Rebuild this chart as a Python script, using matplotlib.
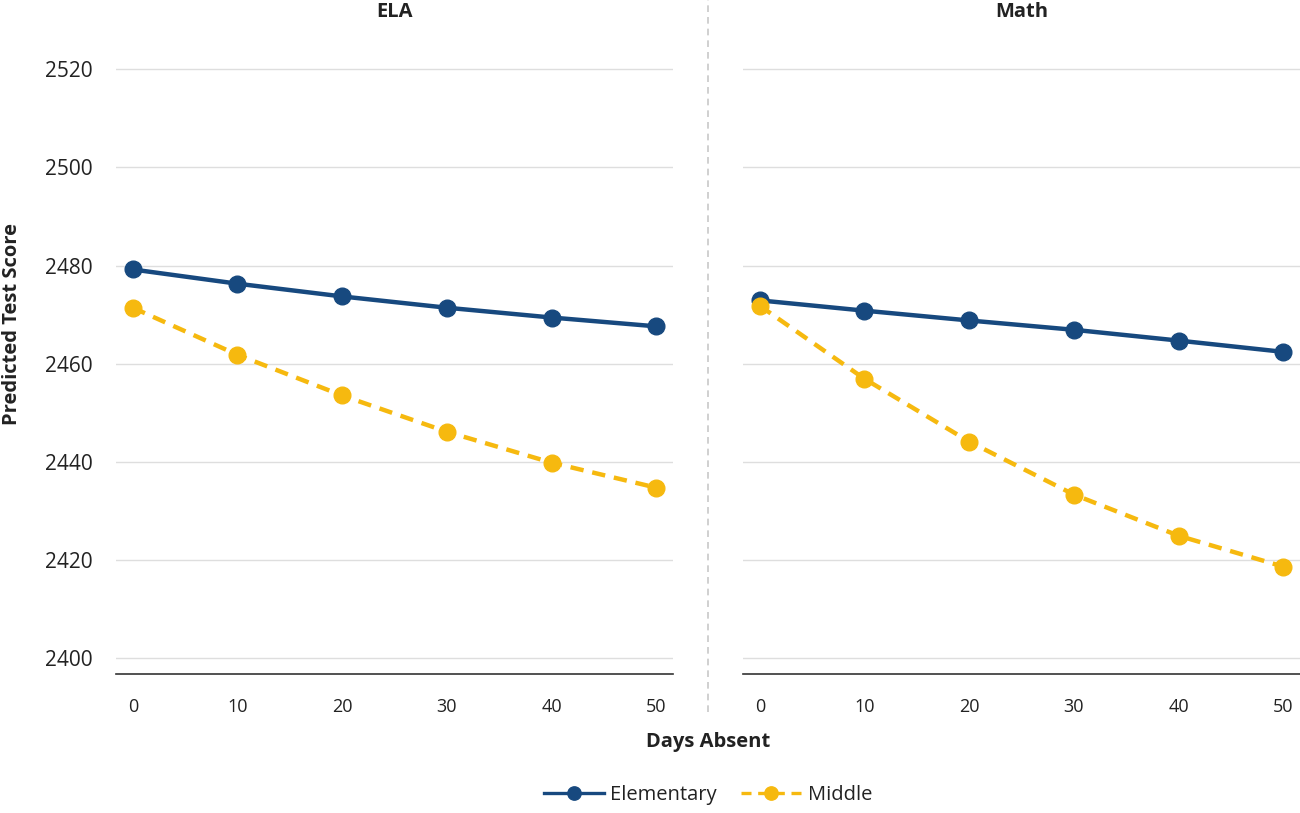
import matplotlib
matplotlib.use("Agg")
import matplotlib.pyplot as plt
from matplotlib.lines import Line2D

plt.rcParams['font.family'] = ['Open Sans', 'DejaVu Sans']

days = [0, 10, 20, 30, 40, 50]
ela_elementary = [2479.2, 2476.3, 2473.7, 2471.4, 2469.4, 2467.6]
ela_middle = [2471.4, 2461.8, 2453.5, 2446.1, 2439.8, 2434.7]
math_elementary = [2472.9, 2470.8, 2468.8, 2466.9, 2464.7, 2462.4]
math_middle = [2471.8, 2456.9, 2444.1, 2433.3, 2424.9, 2418.6]
panels = ["ELA", "Math"]
yticks = [2400, 2420, 2440, 2460, 2480, 2500, 2520]

navy = "#17497f"
gold = "#f6b90f"
text_c = "#222222"

fig = plt.figure(figsize=(13, 8.13), dpi=100)
W, H = 1300, 813
ax_l = fig.add_axes([116/W, 1-674/H, 557/W, (674-40)/H])
ax_r = fig.add_axes([743/W, 1-674/H, 557/W, (674-40)/H])

data = [(ela_elementary, ela_middle), (math_elementary, math_middle)]
for i, (ax, (el, mid)) in enumerate(zip([ax_l, ax_r], data)):
    ax.plot(days, el, color=navy, lw=3.2, marker='o', ms=12, label="Elementary", zorder=3)
    ax.plot(days, mid, color=gold, lw=3.2, ls=(0, (3, 2)), marker='o', ms=12, label="Middle", zorder=3)
    ax.set_xlim(-1.6, 51.6)
    ax.set_ylim(2396.7, 2526)
    ax.set_yticks(yticks)
    ax.set_xticks(days)
    ax.grid(axis='y', color='#dedede', lw=1)
    ax.set_axisbelow(True)
    for s in ['top', 'right', 'left']:
        ax.spines[s].set_visible(False)
    ax.spines['bottom'].set_color('#333333')
    ax.spines['bottom'].set_linewidth(1.2)
    ax.tick_params(axis='both', length=0, colors=text_c)
    ax.tick_params(axis='x', pad=17, labelsize=13)
    ax.tick_params(axis='y', pad=17, labelsize=15)
    if i == 1:
        ax.tick_params(axis='y', labelleft=False)

fig.text(394.5/W, 1-12/H, panels[0], ha='center', va='center', fontsize=14.5,
         fontweight='bold', color=text_c)
fig.text(1021.5/W, 1-12/H, panels[1], ha='center', va='center', fontsize=14.5,
         fontweight='bold', color=text_c)

fig.text(12/W, 1-324/H, "Predicted Test Score", rotation=90, ha='center', va='center',
         fontsize=14.5, fontweight='bold', color=text_c)
fig.text(708/W, 1-742/H, "Days Absent", ha='center', va='center', fontsize=14.5,
         fontweight='bold', color=text_c)

fig.add_artist(Line2D([708/W, 708/W], [1-712/H, 1.0], color='#c8c8c8', lw=1.2,
                      ls=(0, (4, 3)), transform=fig.transFigure))

handles, labels = ax_l.get_legend_handles_labels()
leg = fig.legend(handles, labels, loc='center', bbox_to_anchor=(708/W, 1-795/H), ncol=2,
                 frameon=False, fontsize=14.5, handlelength=3.0, columnspacing=1.2,
                 handletextpad=0.3, markerscale=0.8)
for t in leg.get_texts():
    t.set_color(text_c)
for h in leg.legend_handles:
    h.set_linewidth(2.4)

fig.savefig("out.png", dpi=100)
